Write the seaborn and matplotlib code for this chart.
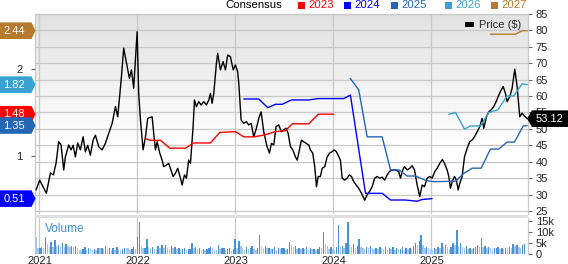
import numpy as np
import pandas as pd
import seaborn as sns
import matplotlib
matplotlib.use("Agg")
import matplotlib.pyplot as plt
from matplotlib.patches import Polygon, Rectangle
from matplotlib.colors import LinearSegmentedColormap
from matplotlib.transforms import IdentityTransform

# ---------------- data ----------------
price_t = [2020.966, 2021.003, 2021.071, 2021.112, 2021.143, 2021.170, 2021.197, 2021.221, 2021.248, 2021.265,
           2021.299, 2021.323, 2021.344, 2021.367, 2021.391, 2021.418, 2021.446, 2021.469, 2021.493, 2021.520,
           2021.548, 2021.571, 2021.605, 2021.640, 2021.673, 2021.707, 2021.742, 2021.776, 2021.799, 2021.834,
           2021.860, 2021.895, 2021.918, 2021.939, 2021.962, 2021.997, 2022.013, 2022.031, 2022.058, 2022.082,
           2022.105, 2022.150, 2022.166, 2022.184, 2022.201, 2022.228, 2022.252, 2022.268, 2022.296, 2022.319,
           2022.337, 2022.364, 2022.388, 2022.411, 2022.439, 2022.456, 2022.480, 2022.500, 2022.523, 2022.541,
           2022.568, 2022.582, 2022.602, 2022.626, 2022.650, 2022.677, 2022.704, 2022.728, 2022.745, 2022.762,
           2022.779, 2022.806, 2022.819, 2022.847, 2022.874, 2022.898, 2022.921, 2022.949, 2022.977, 2023.000,
           2023.023, 2023.034, 2023.058, 2023.085, 2023.112, 2023.136, 2023.160, 2023.187, 2023.214, 2023.238,
           2023.262, 2023.289, 2023.323, 2023.347, 2023.367, 2023.391, 2023.415, 2023.442, 2023.469, 2023.493,
           2023.517, 2023.538, 2023.561, 2023.585, 2023.612, 2023.630, 2023.646, 2023.673, 2023.697, 2023.721,
           2023.748, 2023.765, 2023.789, 2023.809, 2023.827, 2023.844, 2023.867, 2023.885, 2023.911, 2023.936,
           2023.959, 2023.987, 2024.007, 2024.028, 2024.048, 2024.071, 2024.089, 2024.115, 2024.140, 2024.163,
           2024.184, 2024.207, 2024.232, 2024.258, 2024.286, 2024.319, 2024.344, 2024.367, 2024.395, 2024.421,
           2024.446, 2024.469, 2024.497, 2024.523, 2024.548, 2024.571, 2024.599, 2024.633, 2024.666, 2024.684,
           2024.707, 2024.724, 2024.752, 2024.779, 2024.803, 2024.827, 2024.854, 2024.881, 2024.905, 2024.929,
           2024.956, 2024.983, 2025.007, 2025.034, 2025.058, 2025.085, 2025.112, 2025.133, 2025.160, 2025.177,
           2025.194, 2025.211, 2025.235, 2025.255, 2025.272, 2025.289, 2025.313, 2025.337, 2025.364, 2025.391,
           2025.415, 2025.439, 2025.466, 2025.493, 2025.517, 2025.534, 2025.561, 2025.585, 2025.609, 2025.636,
           2025.660, 2025.687, 2025.711, 2025.732, 2025.755, 2025.772, 2025.799, 2025.823, 2025.850, 2025.874,
           2025.901, 2025.925, 2025.949, 2025.977]
price_v = [31.4, 34.4, 30.4, 36.6, 36.0, 39.6, 46.1, 45.1, 37.5, 41.5,
           45.1, 43.6, 45.0, 41.5, 45.7, 43.6, 47.6, 43.0, 45.0, 42.0,
           46.6, 48.1, 44.6, 43.6, 45.6, 48.6, 51.7, 56.8, 53.7, 64.9,
           74.6, 69.0, 65.4, 68.0, 62.4, 79.6, 60.8, 52.7, 43.6, 47.6,
           53.2, 53.7, 48.7, 43.6, 46.1, 42.6, 40.5, 38.5, 39.0, 39.5,
           38.0, 35.5, 36.5, 38.0, 35.0, 32.9, 36.0, 35.0, 40.5, 39.5,
           50.7, 58.8, 56.8, 58.3, 57.3, 58.3, 57.3, 58.8, 60.8, 57.8,
           60.8, 70.0, 73.0, 68.0, 70.5, 68.0, 72.5, 72.0, 68.0, 69.5,
           67.4, 63.9, 52.7, 51.7, 52.2, 51.2, 51.7, 47.6, 50.2, 53.2,
           55.2, 49.1, 44.6, 42.6, 45.6, 45.1, 50.7, 51.2, 49.1, 49.7,
           50.2, 48.6, 44.6, 43.6, 41.5, 40.5, 42.6, 46.6, 46.1, 45.6,
           45.1, 43.6, 42.6, 38.5, 32.4, 35.5, 35.5, 38.0, 38.5, 41.5,
           42.6, 43.1, 43.6, 43.1, 42.0, 40.5, 35.0, 34.4, 35.0, 36.0,
           35.5, 33.9, 32.9, 31.9, 30.4, 28.3, 29.9, 30.9, 32.4, 35.0,
           35.5, 35.0, 35.3, 34.4, 36.0, 37.0, 37.5, 37.5, 37.0, 35.0,
           37.5, 38.5, 37.5, 38.0, 38.8, 37.5, 32.9, 29.4, 32.9, 32.4,
           35.0, 35.5, 35.0, 37.0, 38.0, 39.5, 40.7, 39.5, 37.5, 35.5,
           31.9, 33.9, 35.5, 34.4, 31.4, 33.4, 35.5, 41.5, 44.1, 46.1,
           46.6, 47.6, 49.1, 50.7, 53.2, 50.2, 53.7, 55.2, 55.8, 56.8,
           58.3, 60.3, 61.8, 62.9, 60.8, 58.3, 59.8, 62.4, 68.2, 62.9,
           53.7, 54.8, 53.9, 53.12]

eps2023_t = [2022.082, 2022.133, 2022.235, 2022.330, 2022.490, 2022.574, 2022.745, 2022.840, 2023.000,
             2023.085, 2023.187, 2023.289, 2023.408, 2023.510, 2023.579, 2023.748, 2023.844, 2024.003]
eps2023_v = [1.20, 1.18, 1.18, 1.09, 1.09, 1.15, 1.15, 1.27, 1.28,
             1.22, 1.22, 1.24, 1.28, 1.29, 1.37, 1.37, 1.48, 1.48]

eps2024_t = [2023.085, 2023.238, 2023.330, 2023.408, 2023.477, 2023.571, 2023.748, 2023.844, 2024.105,
             2024.173, 2024.327, 2024.497, 2024.582, 2024.735, 2024.854, 2024.905, 2025.007]
eps2024_v = [1.655, 1.655, 1.555, 1.594, 1.594, 1.644, 1.644, 1.66, 1.66,
             1.70, 0.571, 0.571, 0.494, 0.494, 0.48, 0.50, 0.51]

eps2025_t = [2024.173, 2024.258, 2024.344, 2024.497, 2024.582, 2024.666, 2024.752, 2024.837, 2024.939,
             2025.023, 2025.245, 2025.330, 2025.415, 2025.507, 2025.602, 2025.687, 2025.772, 2025.847,
             2025.936, 2025.977]
eps2025_v = [1.89, 1.76, 1.22, 1.22, 0.84, 0.84, 0.77, 0.77, 0.72,
             0.705, 0.71, 0.80, 0.86, 0.86, 1.08, 1.08, 1.16, 1.16,
             1.345, 1.35]

eps2026_t = [2025.177, 2025.245, 2025.337, 2025.398, 2025.500, 2025.585, 2025.677, 2025.772, 2025.840,
             2025.925, 2025.977]
eps2026_v = [1.48, 1.50, 1.31, 1.345, 1.345, 1.50, 1.53, 1.69, 1.69, 1.83, 1.82]

eps2027_t = [2025.602, 2025.857, 2025.925, 2025.977]
eps2027_v = [2.40, 2.40, 2.44, 2.44]

# weekly volume (thousands), first week starting late Dec 2020
vol_start = 2020.966
vol_k = [7.5, 2.5,
         2.8, 3.0, 2.7, 7.8, 4.5, 3.0, 5.5, 3.2, 6.2, 3.5, 4.0, 3.0, 5.0, 3.2, 4.5, 3.5, 3.0, 3.5, 3.2, 3.3,
         2.8, 1.8, 1.8, 2.0, 3.2, 1.8, 2.5, 2.0, 1.7, 2.0, 1.7, 2.8, 2.6, 2.8, 2.2, 3.4, 2.0, 2.5, 1.8, 2.4,
         1.6, 3.0, 2.2, 1.6, 2.0, 2.8, 2.6, 2.4, 1.6, 2.0, 3.0, 2.2,
         7.8, 14.8, 3.5, 2.5, 2.8, 6.7, 3.0, 2.6, 3.0, 2.2, 2.0, 3.5, 2.8, 4.0, 2.5, 3.8, 2.5, 2.0, 3.6, 2.8,
         3.0, 2.0, 2.6, 1.8, 2.2, 2.4, 1.8, 2.0, 2.2, 5.0, 2.5, 3.0, 2.0, 2.6, 1.8, 2.2, 1.6, 2.0, 2.8, 3.0,
         2.6, 2.2, 1.8, 3.8, 2.0, 2.5, 2.8, 1.8, 2.2, 2.4, 1.4, 2.0,
         6.7, 2.4, 5.9, 3.5, 2.6, 1.8, 3.0, 2.2, 2.6, 3.5, 2.2, 1.8, 2.8, 8.7, 3.0, 2.4, 3.5, 2.6, 2.8, 2.0,
         2.2, 3.0, 1.8, 2.6, 2.0, 2.4, 2.8, 1.6, 2.2, 5.5, 4.2, 3.0, 3.5, 2.0, 2.6, 2.2, 2.8, 2.0, 3.0, 1.8,
         2.4, 2.0, 2.2, 1.8, 2.0, 3.0, 2.5, 10.1, 4.5, 3.5, 2.0, 3.0,
         2.0, 1.5, 3.0, 13.5, 3.0, 3.5, 2.5, 5.0, 14.5, 4.0, 3.0, 4.5, 2.8, 3.5, 6.7, 3.0, 2.5, 2.0, 3.2, 2.4,
         3.5, 2.8, 2.0, 2.6, 2.0, 3.0, 2.4, 2.2, 3.0, 1.8, 2.5, 2.0, 3.0, 1.6, 2.4, 2.0, 2.2, 3.0, 1.8, 2.4,
         2.0, 2.6, 2.0, 3.5, 5.0, 4.0, 6.0, 8.7, 4.0, 2.8, 3.0, 2.5,
         2.0, 1.5, 2.4, 2.0, 3.2, 2.5, 5.0, 3.0, 4.0, 3.2, 2.0, 3.0, 5.0, 4.0, 10.8, 3.5, 5.0, 3.0, 2.5, 3.5,
         2.2, 2.6, 2.0, 2.5, 3.0, 4.0, 3.0, 7.3, 3.0, 3.5, 2.6, 3.0, 2.5, 2.0, 2.4, 2.6, 3.0, 2.2, 2.6, 2.0,
         2.8, 2.4, 3.0, 2.6, 4.5, 3.5, 3.8, 3.0, 2.5, 4.0, 4.5]

years = [2021, 2022, 2023, 2024, 2025]
year_labels = ["2021", "2022", "2023", "2024", "2025"]
price_ticks = [25, 30, 35, 40, 45, 50, 55, 60, 65, 70, 75, 80, 85]
eps_ticks = [1, 2]
vol_ticks = [0, 5, 10, 15]
vol_tick_labels = ["0", "5k", "10k", "15k"]

series = [("2023", eps2023_t, eps2023_v, "#ff0000"),
          ("2024", eps2024_t, eps2024_v, "#0000ff"),
          ("2025", eps2025_t, eps2025_v, "#2466b4"),
          ("2026", eps2026_t, eps2026_v, "#3aa2d2"),
          ("2027", eps2027_t, eps2027_v, "#b57a2c")]

# ---------------- style ----------------
sns.set_style("white")
plt.rcParams['font.family'] = ['Liberation Sans', 'DejaVu Sans']

W, H = 568, 264
fig = plt.figure(figsize=(W / 100, H / 100), dpi=100)


def fx(px):
    return px / W


def fy(py):
    return 1 - py / H


L, R = 35, 528
ax = fig.add_axes([fx(L), fy(214), fx(R) - fx(L), fy(14) - fy(214)])
ax2 = ax.twinx()
axv = fig.add_axes([fx(L), fy(253.5), fx(R) - fx(L), fy(218) - fy(253.5)])
XLIM = (2020.955, 2025.985)
GRID = "#c8c8c8"

# gradient background
cmap = LinearSegmentedColormap.from_list("bg", [(0, "#e2e2e2"), (0.65, "#ffffff"), (1, "#ffffff")])
ax.imshow(np.linspace(0, 1, 256).reshape(-1, 1), cmap=cmap, extent=[0, 1, 0, 1],
          transform=ax.transAxes, aspect="auto", zorder=0, interpolation="bilinear")

# price
sns.lineplot(x=price_t, y=price_v, ax=ax, color="black", lw=1.0, sort=False, estimator=None, zorder=4)
ax.set_xlim(*XLIM)
ax.set_ylim(24.08, 85)
ax.set_yticks(price_ticks)
ax.set_yticklabels([str(t) for t in price_ticks])
ax.set_xticks(years)
ax.grid(True, color=GRID, lw=0.9, zorder=1)
ax.set_axisbelow(True)
ax.yaxis.tick_right()
ax.yaxis.set_label_position("right")
ax.tick_params(axis="y", left=False, labelleft=False, right=True, labelright=True,
               length=3, width=0.8, color="#666666", pad=2.5, labelsize=8)
ax.tick_params(axis="x", bottom=False, labelbottom=False, length=0)
for s in ax.spines.values():
    s.set_color(GRID)
    s.set_linewidth(0.9)
ax.spines["bottom"].set_visible(False)
ax.set_xlabel("")
ax.set_ylabel("")

# consensus EPS
for name, t, v, c in series:
    sns.lineplot(x=t, y=v, ax=ax2, color=c, lw=1.0, sort=False, estimator=None)
ax2.set_xlim(*XLIM)
ax2.set_ylim(0.3333, 2.632)
ax2.set_yticks(eps_ticks)
ax2.set_yticklabels([str(t) for t in eps_ticks])
ax2.yaxis.tick_left()
ax2.tick_params(axis="y", left=True, labelleft=True, right=False, labelright=False,
                length=3, width=0.8, color="#666666", pad=6, labelsize=8)
for s in ax2.spines.values():
    s.set_visible(False)
ax2.set_ylabel("")

# volume
vol_t = [vol_start + i / 52.18 for i in range(len(vol_k))]
bar_cols = ["#4a92d6" if (i > 0 and vol_k[i] > vol_k[i - 1]) else "#a3c8ea" for i in range(len(vol_k))]
axv.bar(vol_t, vol_k, width=0.75 / 52.18, color=bar_cols, lw=0, zorder=3)
axv.set_xlim(*XLIM)
axv.set_ylim(0, 16.6)
axv.set_xticks(years)
axv.set_xticklabels(year_labels)
axv.set_yticks(vol_ticks)
axv.set_yticklabels(vol_tick_labels)
axv.yaxis.tick_right()
axv.tick_params(axis="y", right=True, length=3, width=0.8, color="#666666", pad=2.5, labelsize=8)
axv.tick_params(axis="x", length=0, pad=1.5, labelsize=8)
axv.grid(True, axis="x", color=GRID, lw=0.9, zorder=1)
axv.set_axisbelow(True)
for s in axv.spines.values():
    s.set_color(GRID)
    s.set_linewidth(0.9)
axv.spines["top"].set_visible(False)
axv.spines["bottom"].set_visible(False)

# separator band
fig.add_artist(Rectangle((fx(L), fy(218)), fx(R) - fx(L), fy(214.5) - fy(218),
                         transform=fig.transFigure, color="#e0e0e0", lw=0, zorder=3))

fig.text(fx(45), fy(229), "Volume", color="#3d8fd1", fontsize=8.5, va="center", ha="left")

# top legend
fig.text(fx(225), fy(5.5), "Consensus", fontsize=8.2, va="center", ha="left", color="black")
leg_x = [298, 344, 391, 445, 491]
for (name, t, v, c), lx in zip(series, leg_x):
    fig.add_artist(Rectangle((fx(lx), fy(9)), fx(7), fy(2) - fy(9), transform=fig.transFigure,
                             color=c, lw=0))
    fig.text(fx(lx + 10), fy(5.5), name, fontsize=8.2, color=c, va="center", ha="left")

# price legend
fig.add_artist(Rectangle((fx(465), fy(27)), fx(9), fy(22.5) - fy(27), transform=fig.transFigure,
                         color="black", lw=0, zorder=6))
fig.text(fx(479), fy(25), "Price ($)", fontsize=8, va="center", ha="left", zorder=6)

# value tags
ident = IdentityTransform()
hh = 8.3
for name, t, v, c in series[::-1][:2] + [series[0], series[2], series[1]]:
    val = v[-1]
    yd = ax2.transData.transform((2023, val))[1]
    verts = [(0, yd + hh), (31.5, yd + hh), (35.5, yd), (31.5, yd - hh), (0, yd - hh)]
    fig.add_artist(Polygon(verts, closed=True, transform=ident, color=c, lw=0, zorder=7))
    fig.text(14, yd, f"{val:.2f}", transform=ident, color="white", fontsize=8,
             ha="center", va="center", zorder=8)

pv = price_v[-1]
yd = ax.transData.transform((2023, pv))[1]
verts = [(527, yd), (532, yd + hh), (W, yd + hh), (W, yd - hh), (532, yd - hh)]
fig.add_artist(Polygon(verts, closed=True, transform=ident, color="black", lw=0, zorder=7))
fig.text(550, yd, f"{pv:.2f}", transform=ident, color="white", fontsize=8, ha="center", va="center", zorder=8)

fig.savefig("out.png", dpi=100)
